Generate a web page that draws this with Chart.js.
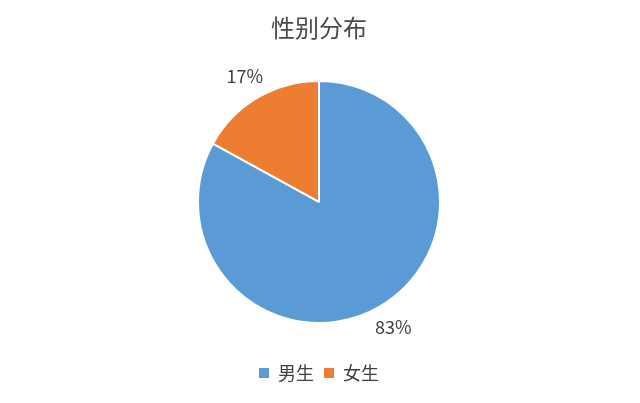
<!DOCTYPE html>
<html>
<head>
<meta charset="utf-8">
<script src="https://cdn.jsdelivr.net/npm/chart.js@4.4.0/dist/chart.umd.min.js"></script>
<style>
  html, body { margin: 0; padding: 0; background: #fff; }
  #wrap { width: 640px; height: 403px; }
</style>
</head>
<body>
<div id="wrap"><canvas id="pie"></canvas></div>
<script>
const labels = ['男生', '女生'];
const shares = [83, 17];
const colors = ['#5b9bd5', '#ed7d31'];

const FONT = "'Noto Sans CJK SC', 'Noto Sans', sans-serif";
const textColor = '#404040';

// percentages outside the slices, along each slice's mid angle
const outsideLabels = {
  id: 'outsideLabels',
  afterDatasetsDraw(chart) {
    const ctx = chart.ctx;
    const meta = chart.getDatasetMeta(0);
    ctx.save();
    ctx.font = `18px ${FONT}`;
    ctx.fillStyle = textColor;
    ctx.textAlign = 'center';
    ctx.textBaseline = 'middle';
    meta.data.forEach((arc, i) => {
      const p = arc.getProps(['x', 'y', 'startAngle', 'endAngle', 'outerRadius'], true);
      const mid = (p.startAngle + p.endAngle) / 2;
      const r = p.outerRadius + 25;
      ctx.fillText(shares[i] + '%', p.x + Math.cos(mid) * r, p.y + Math.sin(mid) * r);
    });
    ctx.restore();
  }
};

new Chart(document.getElementById('pie'), {
  type: 'pie',
  data: {
    labels: labels,
    datasets: [{
      data: shares,
      backgroundColor: colors,
      borderColor: '#ffffff',
      borderWidth: 2,
      radius: 121,
    }],
  },
  options: {
    responsive: true,
    maintainAspectRatio: false,
    animation: false,
    layout: { padding: { bottom: 11, right: 2 } },
    plugins: {
      title: {
        display: true,
        text: '性别分布',
        color: '#4a4a4a',
        font: { family: FONT, size: 24, weight: 'normal' },
        padding: { top: 13, bottom: 8 },
      },
      legend: {
        position: 'bottom',
        labels: {
          color: textColor,
          font: { family: FONT, size: 18 },
          boxWidth: 10,
          boxHeight: 10,
          padding: 10,
          generateLabels(chart) {
            return labels.map((l, i) => ({
              text: l,
              fillStyle: colors[i],
              strokeStyle: colors[i],
              lineWidth: 0,
              fontColor: textColor,
              index: i,
            }));
          },
        },
      },
      tooltip: { enabled: false },
    },
  },
  plugins: [outsideLabels],
});
</script>
</body>
</html>
